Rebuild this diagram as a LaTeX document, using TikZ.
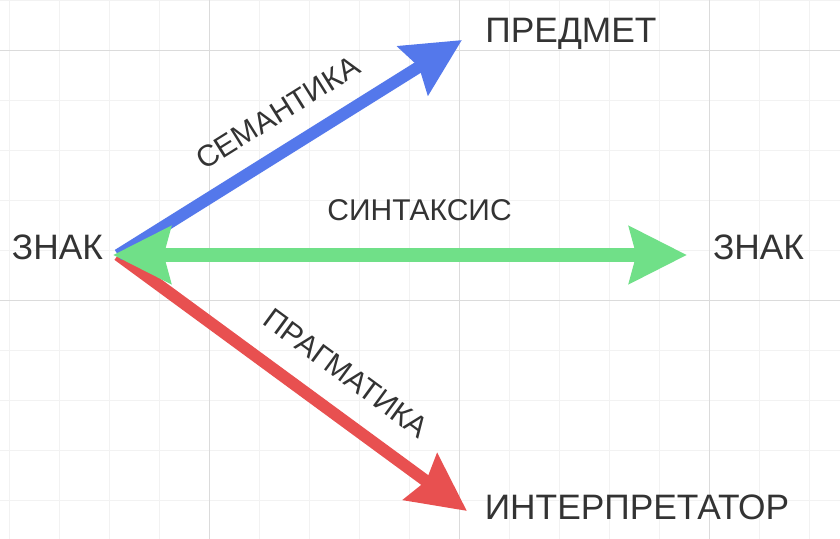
\documentclass[tikz,border=0pt]{standalone}
\usepackage{fontspec}
\setmainfont{Liberation Sans}
\usetikzlibrary{arrows.meta}
\definecolor{semblue}{RGB}{84,120,235}
\definecolor{syngreen}{RGB}{112,224,136}
\definecolor{pragred}{RGB}{232,80,80}
\definecolor{textgray}{RGB}{51,51,51}
\tikzset{
    gridminor/.style={draw=black!5, line width=0.75pt},
    gridmajor/.style={draw=black!14, line width=0.75pt},
    termnode/.style={text=textgray, inner sep=0pt, anchor=base, font=\fontsize{26.5}{30}\selectfont},
    relnode/.style={text=textgray, inner sep=0pt, sloped, font=\fontsize{22.5}{26}\selectfont},
    bigtip/.tip={Stealth[length=43pt,width=42pt,inset=5pt]},
    semarrow/.style={-bigtip, line width=9pt, draw=semblue},
    synarrow/.style={bigtip-bigtip, line width=10pt, draw=syngreen},
    pragarrow/.style={-bigtip, line width=9pt, draw=pragred}
}
\begin{document}
\begin{tikzpicture}[x=0.75pt, y=-0.75pt]
    \fill[white] (0,0) rectangle (840,539);
    \useasboundingbox (0,0) rectangle (840,539);

    % Grid
    \foreach \gx in {9,59,...,809} \draw[gridminor] (\gx,0) -- (\gx,539);
    \foreach \gy in {0,50,...,500} \draw[gridminor] (0,\gy) -- (840,\gy);
    \foreach \gx in {209,459,709} \draw[gridmajor] (\gx,0) -- (\gx,539);
    \foreach \gy in {50,300} \draw[gridmajor] (0,\gy) -- (840,\gy);

    % Terms
    \node[termnode] (znakL) at (57.5,259) {ЗНАК};
    \node[termnode] (znakR) at (758.5,259) {ЗНАК};
    \node[termnode] (predmet) at (571,42) {ПРЕДМЕТ};
    \node[termnode] (interp) at (637,519) {ИНТЕРПРЕТАТОР};

    % Arrow ends
    \coordinate (hub) at (118,255);
    \coordinate (semtip) at (462,40);
    \coordinate (pragtip) at (467,511);
    \coordinate (synL) at (113,255);
    \coordinate (synR) at (687,255);

    % Relations
    \draw[pragarrow] (hub) -- node[relnode, pos=0.587, above=17.5pt] {ПРАГМАТИКА} (pragtip);
    \draw[semarrow] (hub) -- node[relnode, pos=0.52, above=14.5pt] {СЕМАНТИКА} (semtip);
    \draw[synarrow] (synL) -- node[relnode, pos=0.534, above=21pt] {СИНТАКСИС} (synR);
\end{tikzpicture}
\end{document}
